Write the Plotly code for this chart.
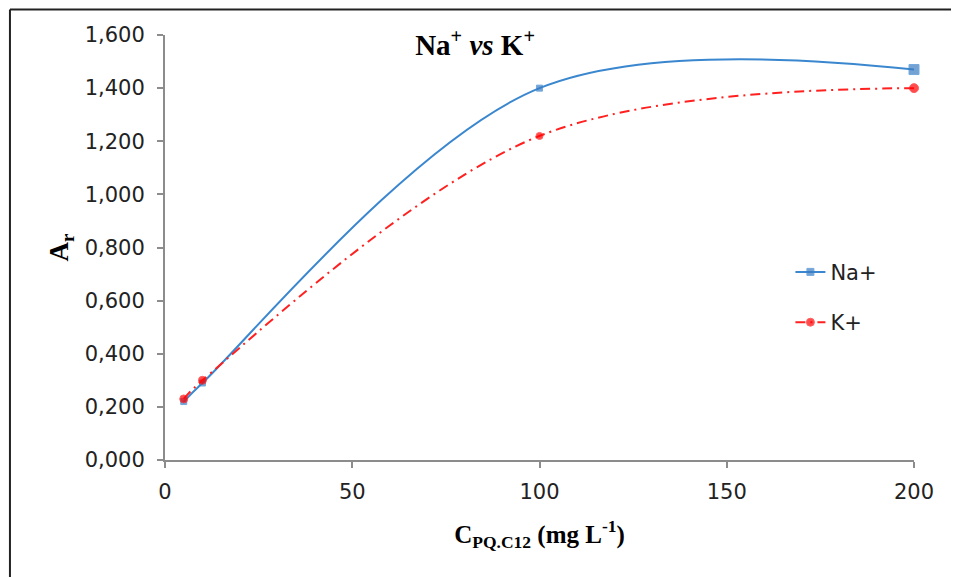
import plotly.graph_objects as go

x_conc = [5, 10, 100, 200]
na_values = [0.22, 0.29, 1.40, 1.47]
k_values = [0.23, 0.30, 1.22, 1.40]
y_ticks = [0, 0.2, 0.4, 0.6, 0.8, 1.0, 1.2, 1.4, 1.6]
y_tick_labels = ["0,000", "0,200", "0,400", "0,600", "0,800", "1,000", "1,200", "1,400", "1,600"]
x_ticks = [0, 50, 100, 150, 200]

fig = go.Figure()
fig.add_trace(go.Scatter(
    x=x_conc, y=na_values, name="Na+", mode="lines+markers", cliponaxis=False,
    line=dict(color="#3a87cf", width=2, shape="spline", smoothing=1.0),
    marker=dict(symbol="square", size=[6, 6, 6, 10], color="#3a7cc2",
                line=dict(color="#3a87cf", width=1)),
    legendgroup="a",
))
fig.add_trace(go.Scatter(
    x=x_conc, y=k_values, name="K+", mode="lines+markers", cliponaxis=False,
    line=dict(color="#ff2020", width=2, shape="spline", smoothing=1.0,
              dash="10px,5px,2px,5px"),
    marker=dict(symbol="circle", size=[8, 8, 7, 9], color="#ff0000"),
    legendgroup="b",
))

axis_font = dict(family="DejaVu Sans", size=21, color="#222222")
fig.update_layout(
    width=959, height=577,
    paper_bgcolor="white", plot_bgcolor="white",
    margin=dict(l=157, r=53, t=27, b=125),
    title=dict(text="<b>Na<sup>+</sup> <i>vs</i> K<sup>+</sup></b>",
               font=dict(family="Liberation Serif", size=29, color="black"),
               x=0.487, xanchor="center", y=0.936, yanchor="middle"),
    xaxis=dict(range=[0, 200], tickvals=x_ticks, showgrid=False, zeroline=False,
               showline=True, linecolor="#8c8c8c", linewidth=2,
               ticks="outside", ticklen=6, tickcolor="#8c8c8c", tickwidth=2,
               tickfont=axis_font, ticklabelstandoff=6,
               title=dict(text="<b>C<sub>PQ.C12</sub> (mg L<sup>-1</sup>)</b>",
                          font=dict(family="Liberation Serif", size=25, color="black"),
                          standoff=22)),
    yaxis=dict(range=[0, 1.6], tickvals=y_ticks, ticktext=y_tick_labels,
               showgrid=False, zeroline=False,
               showline=True, linecolor="#8c8c8c", linewidth=2,
               ticks="outside", ticklen=6, tickcolor="#8c8c8c", tickwidth=2,
               tickfont=axis_font, ticklabelstandoff=8,
               title=dict(text="<b>A<sub>r</sub></b>",
                          font=dict(family="Liberation Serif", size=27, color="black"),
                          standoff=8)),
    legend=dict(x=0.835, y=0.49, xanchor="left", yanchor="top",
                font=dict(family="DejaVu Sans", size=21, color="#222222"),
                tracegroupgap=20, bgcolor="rgba(0,0,0,0)"),
    shapes=[
        dict(type="line", xref="paper", yref="paper", x0=-0.207, x1=1.08, y0=1.06, y1=1.06,
             line=dict(color="#222222", width=2)),
        dict(type="line", xref="paper", yref="paper", x0=-0.207, x1=-0.207, y0=1.06, y1=-0.32,
             line=dict(color="#222222", width=2)),
    ],
)
fig.write_html("out.html")
